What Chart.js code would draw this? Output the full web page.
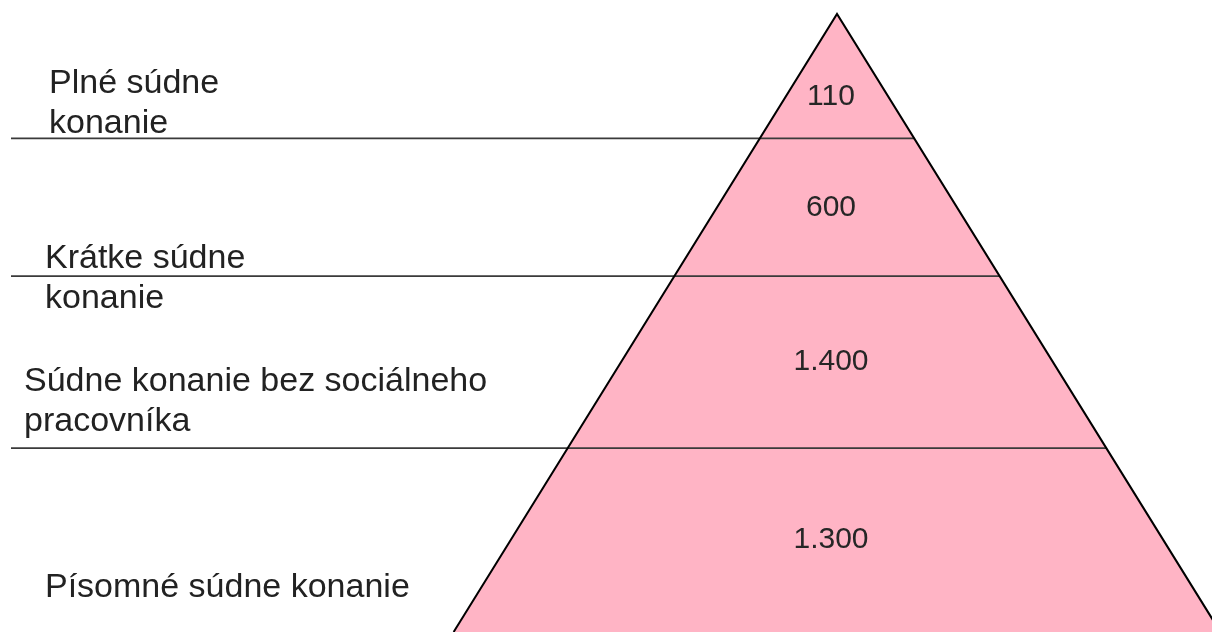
<!DOCTYPE html>
<html>
<head>
<meta charset="utf-8">
<script src="https://cdn.jsdelivr.net/npm/chart.js@4/dist/chart.umd.min.js"></script>
<style>
  html, body { margin: 0; padding: 0; background: #fff; }
  #wrap { width: 1212px; height: 632px; position: relative; }
</style>
</head>
<body>
<div id="wrap"><canvas id="c"></canvas></div>
<script>
// tiers, top to bottom
const tierNames = [
  ["Plné súdne", "konanie"],
  ["Krátke súdne", "konanie"],
  ["Súdne konanie bez sociálneho", "pracovníka"],
  ["Písomné súdne konanie"]
];
const tierValues = [110, 600, 1400, 1300];
// tier boundaries as height level (0 = bottom edge, apex on top)
const levelBounds = [97.8, 78.1, 56.3, 29.1, 0];

// layout
const apexX = 837;
const slope = 3.92;          // x units per level unit on each side
const lineStartX = 11;
const pink = "#ffb4c5";
const labelAnchors = [
  { x: 49, y: 93 },
  { x: 45, y: 268 },
  { x: 24, y: 391 },
  { x: 45, y: 597 }
];

const halfW = (v) => (levelBounds[0] - v) * slope;
const fmt = (n) => String(n).replace(/\B(?=(\d{3})+(?!\d))/g, ".");

const datasets = [];

// outline (left edge -> apex -> right edge)
datasets.push({
  data: [
    { x: apexX - halfW(levelBounds[4]), y: levelBounds[4] },
    { x: apexX, y: levelBounds[0] },
    { x: apexX + halfW(levelBounds[4]), y: levelBounds[4] }
  ],
  showLine: true,
  borderColor: "#000",
  borderWidth: 2,
  pointRadius: 0,
  fill: false,
  order: 0
});

// separator lines
for (let i = 1; i < levelBounds.length - 1; i++) {
  const v = levelBounds[i];
  datasets.push({
    data: [{ x: lineStartX, y: v }, { x: apexX + halfW(v), y: v }],
    showLine: true,
    borderColor: "#3a3a3a",
    borderWidth: 1.8,
    pointRadius: 0,
    fill: false,
    order: 1
  });
}

// tiers
for (let i = 0; i < tierValues.length; i++) {
  const top = levelBounds[i], bot = levelBounds[i + 1];
  datasets.push({
    data: [
      { x: apexX - halfW(top), y: top },
      { x: apexX + halfW(top), y: top },
      { x: apexX + halfW(bot), y: bot },
      { x: apexX - halfW(bot), y: bot },
      { x: apexX - halfW(top), y: top }
    ],
    showLine: true,
    borderWidth: 0,
    borderColor: pink,
    backgroundColor: pink,
    pointRadius: 0,
    fill: "shape",
    order: 2
  });
}

const labelPlugin = {
  id: "pyramidLabels",
  afterDatasetsDraw(chart) {
    const ctx = chart.ctx;
    const xs = chart.scales.x, ys = chart.scales.y;
    ctx.save();
    // values inside pyramid
    ctx.fillStyle = "#262626";
    ctx.font = "30px 'Liberation Sans', Arial, sans-serif";
    ctx.textAlign = "center";
    ctx.textBaseline = "middle";
    tierValues.forEach((val, i) => {
      const top = levelBounds[i], bot = levelBounds[i + 1];
      const f = i === 0 ? 1 / 3 : 1 / 2;
      const lv = bot + (top - bot) * f;
      ctx.fillText(fmt(val), xs.getPixelForValue(apexX) - 6, ys.getPixelForValue(lv));
    });
    // names on the left
    ctx.fillStyle = "#222";
    ctx.font = "34px 'Liberation Sans', Arial, sans-serif";
    ctx.textAlign = "left";
    ctx.textBaseline = "alphabetic";
    tierNames.forEach((lines, i) => {
      const a = labelAnchors[i];
      lines.forEach((t, j) => ctx.fillText(t, a.x, a.y + j * 39.5));
    });
    ctx.restore();
  }
};

new Chart(document.getElementById("c"), {
  type: "scatter",
  data: { datasets },
  options: {
    responsive: true,
    maintainAspectRatio: false,
    animation: false,
    layout: { padding: 0 },
    plugins: { legend: { display: false }, tooltip: { enabled: false } },
    scales: {
      x: { type: "linear", min: 0, max: 1212, display: false },
      y: { type: "linear", min: 0, max: 100, display: false }
    }
  },
  plugins: [labelPlugin]
});
</script>
</body>
</html>
